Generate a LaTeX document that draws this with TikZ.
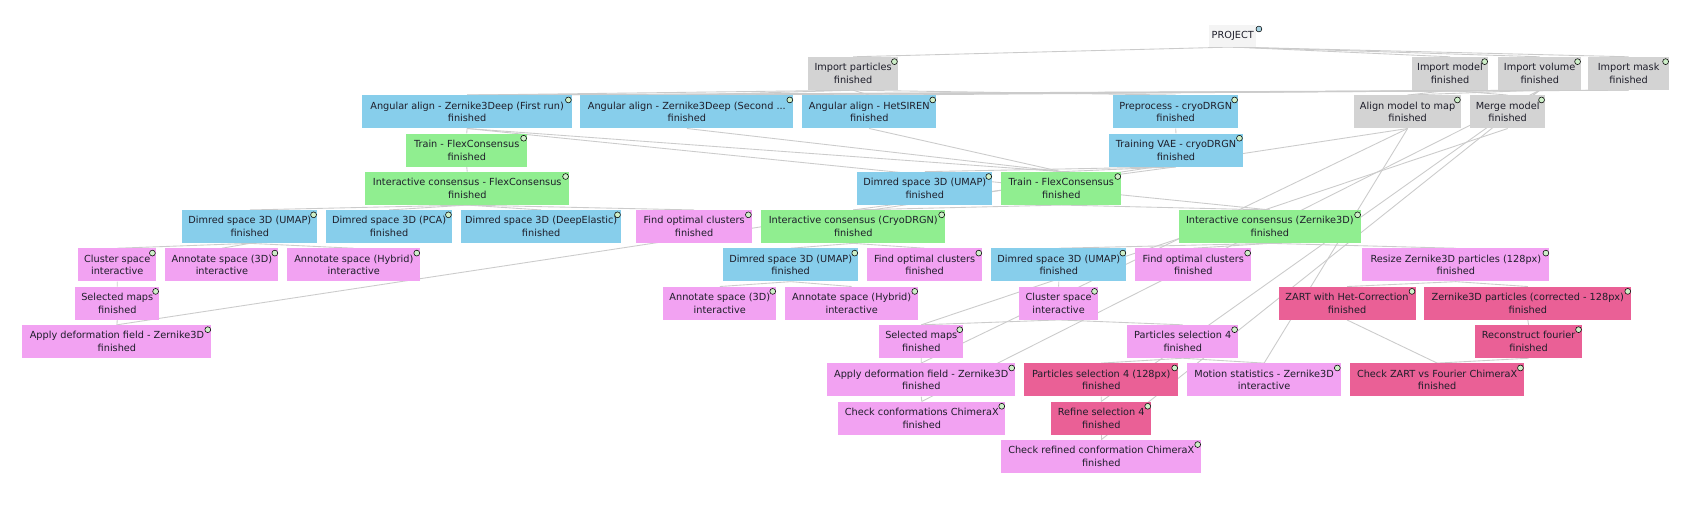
\documentclass[tikz,border=0pt]{standalone}
\usepackage{fontspec}
\setmainfont{DejaVu Sans}
\definecolor{cgray}{HTML}{D3D3D3}
\definecolor{cblue}{HTML}{87CEEB}
\definecolor{cgreen}{HTML}{90EE90}
\definecolor{cpink}{HTML}{F2A2F2}
\definecolor{cdark}{HTML}{EA6096}
\definecolor{cproj}{HTML}{F4F4F4}
\definecolor{cdot}{HTML}{CDEFC8}
\definecolor{cdotp}{HTML}{A8D4E4}
\definecolor{cedge}{HTML}{CBCBCB}
\definecolor{ctxt}{HTML}{1E1E2A}
\pgfdeclarelayer{bg}
\pgfsetlayers{bg,main}
\tikzset{
  box/.style={anchor=north west, inner sep=0pt, minimum height=30.5pt, align=center,
    font=\fontsize{9}{11.7}\selectfont, text=ctxt},
  gbox/.style={box, fill=cgray},
  bbox/.style={box, fill=cblue},
  grbox/.style={box, fill=cgreen},
  pbox/.style={box, fill=cpink},
  dbox/.style={box, fill=cdark},
  dot/.style={circle, draw=black, line width=0.5pt, fill=cdot, inner sep=0pt, minimum size=5.4pt},
  edge/.style={draw=cedge, line width=0.8pt}
}
\newcommand\bx[7]{%
  \node[#5, minimum width={#3pt-#2pt}] (#1) at (#2,-#4) {#6\\#7};
  \node[dot] (#1-d) at ([xshift=-3.5pt,yshift=-4.5pt]#1.north east) {};
}
\begin{document}
\begin{tikzpicture}[x=1pt,y=1pt]
\useasboundingbox (0,0) rectangle (1568,-479);

% PROJECT
\node[anchor=north west, inner sep=0pt, minimum width=43pt, minimum height=20pt,
  fill=cproj, font=\fontsize{9}{11.7}\selectfont, text=ctxt] (project) at (1118,-23.1) {PROJECT};
\node[dot, fill=cdotp] (project-d) at ([xshift=2.5pt,yshift=-3.7pt]project.north east) {};

% row 1
\bx{imppart}{747}{830}{52.5}{gbox}{Import particles}{finished}
\bx{impmodel}{1305}{1375.7}{52.5}{gbox}{Import model}{finished}
\bx{impvol}{1385}{1461.6}{52.5}{gbox}{Import volume}{finished}
\bx{impmask}{1468}{1543}{52.5}{gbox}{Import mask}{finished}
% row 2
\bx{angfirst}{334.7}{528.6}{87.9}{bbox}{Angular align - Zernike3Deep (First run)}{finished}
\bx{angsecond}{536.3}{733.3}{87.9}{bbox}{Angular align - Zernike3Deep (Second ...}{finished}
\bx{hetsiren}{741.5}{865.4}{87.9}{bbox}{Angular align - HetSIREN}{finished}
\bx{preproc}{1029}{1144.5}{87.9}{bbox}{Preprocess - cryoDRGN}{finished}
\bx{align}{1251.9}{1350.5}{87.9}{gbox}{Align model to map}{finished}
\bx{merge}{1359}{1428.3}{87.9}{gbox}{Merge model}{finished}
% row 3
\bx{trainL}{375.4}{487.2}{123.3}{grbox}{Train - FlexConsensus}{finished}
\bx{trainvae}{1025}{1149}{123.3}{bbox}{Training VAE - cryoDRGN}{finished}
% row 4
\bx{interflex}{337.5}{526}{158.7}{grbox}{Interactive consensus - FlexConsensus}{finished}
\bx{dimredM}{792.4}{917.2}{158.7}{bbox}{Dimred space 3D (UMAP)}{finished}
\bx{trainR}{925.5}{1036.5}{158.7}{grbox}{Train - FlexConsensus}{finished}
% row 5
\bx{dimredL}{168.5}{293}{194.1}{bbox}{Dimred space 3D (UMAP)}{finished}
\bx{pca}{301.3}{417.7}{194.1}{bbox}{Dimred space 3D (PCA)}{finished}
\bx{deep}{426.3}{574}{194.1}{bbox}{Dimred space 3D (DeepElastic)}{finished}
\bx{findL}{588}{695}{194.1}{pbox}{Find optimal clusters}{finished}
\bx{intercryo}{703.6}{873.7}{194.1}{grbox}{Interactive consensus (CryoDRGN)}{finished}
\bx{interzern}{1089.4}{1258.2}{194.1}{grbox}{Interactive consensus (Zernike3D)}{finished}
% row 6
\bx{clusterL}{72.3}{144}{229.5}{pbox}{Cluster space}{interactive}
\bx{annotLa}{152.7}{257.2}{229.5}{pbox}{Annotate space (3D)}{interactive}
\bx{annotLb}{265.4}{388.4}{229.5}{pbox}{Annotate space (Hybrid)}{interactive}
\bx{dimredML}{668.3}{793.3}{229.5}{bbox}{Dimred space 3D (UMAP)}{finished}
\bx{findM}{801.3}{908}{229.5}{pbox}{Find optimal clusters}{finished}
\bx{dimredMR}{916.2}{1041.2}{229.5}{bbox}{Dimred space 3D (UMAP)}{finished}
\bx{findR}{1049.4}{1156.6}{229.5}{pbox}{Find optimal clusters}{finished}
\bx{resize}{1259.3}{1432.3}{229.5}{pbox}{Resize Zernike3D particles (128px)}{finished}
% row 7
\bx{selL}{69.4}{147}{264.9}{pbox}{Selected maps}{finished}
\bx{annotMa}{613}{717.5}{264.9}{pbox}{Annotate space (3D)}{interactive}
\bx{annotMb}{725.6}{848.8}{264.9}{pbox}{Annotate space (Hybrid)}{interactive}
\bx{clusterM}{942}{1015}{264.9}{pbox}{Cluster space}{interactive}
\bx{zart}{1181.8}{1308.5}{264.9}{dbox}{ZART with Het-Correction}{finished}
\bx{zcorr}{1316.6}{1508}{264.9}{dbox}{Zernike3D particles (corrected - 128px)}{finished}
% row 8
\bx{applyL}{20.6}{195.2}{300.3}{pbox}{Apply deformation field - Zernike3D}{finished}
\bx{selM}{812.7}{890.4}{300.3}{pbox}{Selected maps}{finished}
\bx{psel}{1042}{1144.5}{300.3}{pbox}{Particles selection 4}{finished}
\bx{recon}{1363.5}{1462.5}{300.3}{dbox}{Reconstruct fourier}{finished}
% row 9
\bx{applyM}{764.6}{938.4}{335.7}{pbox}{Apply deformation field - Zernike3D}{finished}
\bx{pselsmall}{946.7}{1089.1}{335.7}{dbox}{Particles selection 4 (128px)}{finished}
\bx{motion}{1097.5}{1239.5}{335.7}{pbox}{Motion statistics - Zernike3D}{interactive}
\bx{checkzart}{1248.2}{1408.8}{335.7}{dbox}{Check ZART vs Fourier ChimeraX}{finished}
% row 10
\bx{checkconf}{774.8}{929.2}{371.1}{pbox}{Check conformations ChimeraX}{finished}
\bx{refine}{971.7}{1064.2}{371.1}{dbox}{Refine selection 4}{finished}
% row 11
\bx{checkref}{925.5}{1110.4}{406.5}{pbox}{Check refined conformation ChimeraX}{finished}

\begin{pgfonlayer}{bg}
\fill[white] (0,0) rectangle (1568,-479);
\foreach \a/\b in {project/imppart, project/impmodel, project/impvol, project/impmask,
  imppart/angfirst, imppart/angsecond, imppart/hetsiren, imppart/preproc,
  impvol/angfirst, impvol/angsecond, impvol/hetsiren, impvol/align,
  impmask/angfirst, impmask/angsecond,
  impmodel/align, impmodel/merge,
  angfirst/trainL, angfirst/trainR, angfirst/interzern,
  angsecond/trainR, hetsiren/trainR,
  preproc/trainvae,
  trainvae/trainR, trainvae/dimredM, trainvae/intercryo,
  trainL/interflex,
  interflex/dimredL, interflex/pca, interflex/deep, interflex/findL,
  trainR/intercryo, trainR/interzern,
  intercryo/dimredML, intercryo/findM,
  interzern/dimredMR, interzern/findR, interzern/resize,
  dimredL/clusterL, dimredL/annotLa, dimredL/annotLb,
  clusterL/selL, selL/applyL,
  align/applyL, align/applyM, align/motion,
  merge/selM,
  impvol/checkconf, impvol/refine, impvol/checkref,
  dimredML/annotMa, dimredML/annotMb,
  dimredMR/clusterM,
  clusterM/selM, clusterM/psel,
  selM/applyM, applyM/checkconf,
  resize/zart, resize/zcorr,
  zcorr/recon, zart/checkzart, recon/checkzart,
  psel/pselsmall, psel/motion,
  pselsmall/refine, refine/checkref}
  \draw[edge] (\a.south) -- (\b.north);
\end{pgfonlayer}
\end{tikzpicture}
\end{document}
